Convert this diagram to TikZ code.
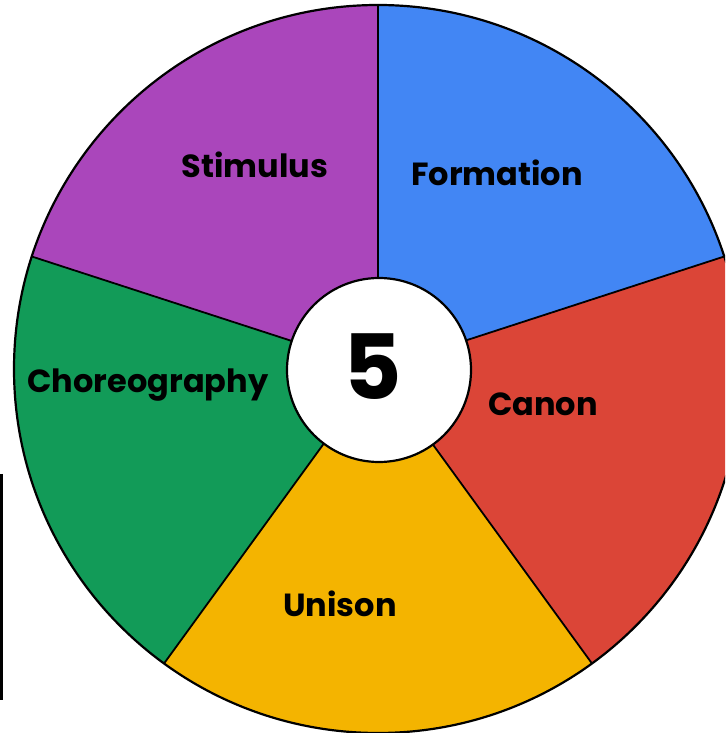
\documentclass[tikz,border=0pt]{standalone}
\usepackage{fontspec}
\setmainfont{Poppins}
\definecolor{cpurple}{HTML}{AA46BB}
\definecolor{cblue}{HTML}{4286F4}
\definecolor{cred}{HTML}{DB4537}
\definecolor{cyellow}{HTML}{F4B400}
\definecolor{cgreen}{HTML}{129B58}
\tikzset{
  lbl/.style={font=\fontsize{32}{33}\selectfont\bfseries, text=black, inner sep=0pt},
  divider/.style={line width=1.8pt, black},
}
\begin{document}
\begin{tikzpicture}[x=1pt,y=1pt]
\useasboundingbox (0,0) rectangle (725,733);
\clip (0,0) rectangle (725,733);
\fill[white] (0,0) rectangle (725,733);
\coordinate (c) at (378,364);
\def\R{364}
\fill[cblue]   (c) -- ++(18:\R)  arc[start angle=18,  end angle=90,  radius=\R] -- cycle;
\fill[cpurple] (c) -- ++(90:\R)  arc[start angle=90,  end angle=162, radius=\R] -- cycle;
\fill[cgreen]  (c) -- ++(162:\R) arc[start angle=162, end angle=234, radius=\R] -- cycle;
\fill[cyellow] (c) -- ++(234:\R) arc[start angle=234, end angle=306, radius=\R] -- cycle;
\fill[cred]    (c) -- ++(306:\R) arc[start angle=306, end angle=378, radius=\R] -- cycle;
\foreach \a in {18,90,162,234,306} \draw[divider] (c) -- ++(\a:\R);
\draw[line width=2.2pt] (c) circle[radius=\R];
\node[circle, fill=white, draw=black, line width=2.2pt, minimum size=184pt, inner sep=0pt] (hub) at (379,363) {};
\node[font=\fontsize{90}{92}\selectfont\bfseries, inner sep=0pt] (five) at (373,366) {5};
\node[lbl] (stim) at (255,568) {Stimulus};
\node[lbl] (form) at (497,560) {Formation};
\node[lbl] (chor) at (148,348) {Choreography};
\node[lbl] (canon) at (543,329) {Canon};
\node[lbl] (uni) at (340,129) {Unison};
\coordinate (ltop) at (1.5,259);
\coordinate (lbot) at (1.5,33);
\draw[line width=3pt] (ltop) -- (lbot);
\end{tikzpicture}
\end{document}
